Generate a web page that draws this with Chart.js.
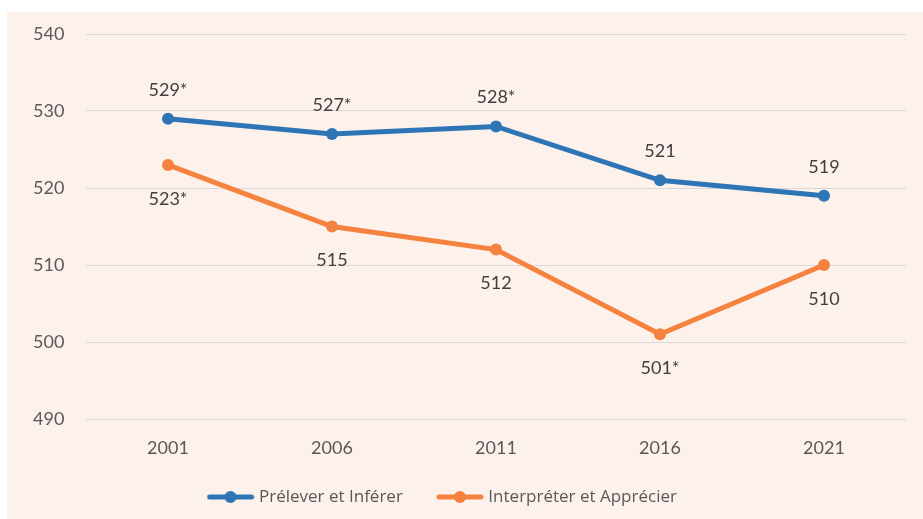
<!DOCTYPE html>
<html>
<head>
<meta charset="utf-8">
<script src="https://cdn.jsdelivr.net/npm/chart.js@4/dist/chart.umd.min.js"></script>
<style>
  body { margin: 0; background: #fff; }
  #wrap { position: absolute; left: 7px; top: 12px; width: 916px; height: 507px; background: #fdf1ec; }
</style>
</head>
<body>
<div id="wrap"><canvas id="myChart" width="916" height="507"></canvas></div>
<script>
const years = ['2001', '2006', '2011', '2016', '2021'];
const preleverValues = [529, 527, 528, 521, 519];
const interpreterValues = [523, 515, 512, 501, 510];
const preleverLabels = ['529*', '527*', '528*', '521', '519'];
const interpreterLabels = ['523*', '515', '512', '501*', '510'];

const blue = '#2e75b6';
const orange = '#f5823e';

function legendIcon (color) {
  const c = document.createElement('canvas');
  c.width = 48;
  c.height = 14;
  const g = c.getContext('2d');
  g.strokeStyle = color;
  g.lineWidth = 5;
  g.lineCap = 'round';
  g.beginPath();
  g.moveTo(3, 7);
  g.lineTo(45, 7);
  g.stroke();
  g.fillStyle = color;
  g.beginPath();
  g.arc(24, 7, 6, 0, Math.PI * 2);
  g.fill();
  return c;
}
const icons = [legendIcon(blue), legendIcon(orange)];

// value labels above / below each point
const pointLabels = {
  id: 'pointLabels',
  afterDatasetsDraw(chart) {
    const ctx = chart.ctx;
    ctx.save();
    ctx.font = '18px Lato';
    ctx.fillStyle = '#404040';
    ctx.textAlign = 'center';
    ctx.textBaseline = 'middle';
    chart.data.datasets.forEach((ds, i) => {
      chart.getDatasetMeta(i).data.forEach((pt, j) => {
        const dy = i === 0 ? -29 : 34;
        ctx.fillText(ds.valueLabels[j], pt.x, pt.y + dy);
      });
    });
    ctx.restore();
  }
};

// put the legend where the original has it
const legendPlace = {
  id: 'legendPlace',
  afterLayout(chart) {
    const lg = chart.legend;
    const pad = lg.options.labels.padding;
    lg.left = 203.5 - pad;
    lg.top -= 3.5;
    lg.bottom -= 3.5;
  }
};

const ctx = document.getElementById('myChart').getContext('2d');
const chart = new Chart(ctx, {
  type: 'line',
  data: {
    labels: years,
    datasets: [{
      label: 'Prélever et Inférer',
      data: preleverValues,
      valueLabels: preleverLabels,
      borderColor: blue,
      backgroundColor: blue,
      borderWidth: 5,
      pointRadius: 6,
      pointBackgroundColor: blue,
      pointBorderWidth: 0,
    }, {
      label: 'Interpréter et Apprécier',
      data: interpreterValues,
      valueLabels: interpreterLabels,
      borderColor: orange,
      backgroundColor: orange,
      borderWidth: 5,
      pointRadius: 6,
      pointBackgroundColor: orange,
      pointBorderWidth: 0,
    }],
  },
  options: {
    responsive: false,
    animation: false,
    layout: { padding: { top: 22, right: 17, left: 26, bottom: 0 } },
    plugins: {
      tooltip: { enabled: false },
      legend: {
        position: 'bottom',
        align: 'start',
        labels: {
          usePointStyle: true,
          pointStyleWidth: 40,
          padding: 37,
          color: '#595959',
          font: { family: 'Open Sans', size: 17 },
          generateLabels(chart) {
            const items = Chart.defaults.plugins.legend.labels.generateLabels(chart);
            items.forEach((it, i) => { it.pointStyle = icons[i]; });
            return items;
          }
        }
      }
    },
    scales: {
      x: {
        offset: true,
        grid: { display: false, drawTicks: false },
        border: { display: false },
        ticks: { padding: 18, color: '#595959', font: { family: 'Lato', size: 18 } },
        afterFit(scale) { scale.height = 36; }
      },
      y: {
        min: 490,
        max: 540,
        grid: { color: '#d9d9d9', lineWidth: 1, drawTicks: false },
        border: { display: false },
        ticks: { stepSize: 10, padding: 0, crossAlign: 'far', color: '#595959', font: { family: 'Lato', size: 18 } },
        afterFit(scale) { scale.width = 53; }
      }
    }
  },
  plugins: [pointLabels, legendPlace]
});
</script>
</body>
</html>
